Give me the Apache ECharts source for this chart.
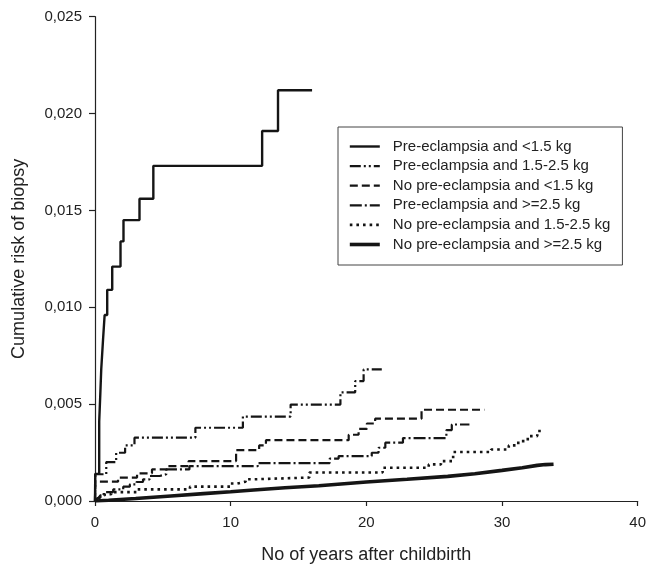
<!DOCTYPE html>
<html>
<head>
<meta charset="utf-8">
<script src="https://cdn.jsdelivr.net/npm/echarts@6/dist/echarts.min.js"></script>
<style>html,body{margin:0;padding:0;background:#fff}#c{width:649px;height:569px}</style>
</head>
<body>
<div id="c"></div>
<script>
// Series names
var seriesNames = [
  'Pre-eclampsia and <1.5 kg',
  'Pre-eclampsia and 1.5-2.5 kg',
  'No pre-eclampsia and <1.5 kg',
  'Pre-eclampsia and >=2.5 kg',
  'No pre-eclampsia and 1.5-2.5 kg',
  'No pre-eclampsia and >=2.5 kg'
];
// Years (step start times) and cumulative risk values
var t1 = [0, 0.02, 0.31, 0.39, 0.46, 0.59, 0.71, 0.90, 1.27, 1.88, 2.10, 3.28, 4.30, 12.32, 13.49, 16.0];
var v1 = [0, 0.0014, 0.0041, 0.0055, 0.0068, 0.0083, 0.0096, 0.0109, 0.0121, 0.0134, 0.0145, 0.0156, 0.0173, 0.0191, 0.0212, 0.0212];

var t2 = [0, 0.02, 0.83, 1.56, 2.22, 2.91, 7.40, 10.90, 14.42, 18.09, 19.18, 19.80, 21.14];
var v2 = [0, 0.00138, 0.00201, 0.00249, 0.00287, 0.00327, 0.00378, 0.00436, 0.00498, 0.00561, 0.00619, 0.00679, 0.00679];

var t3 = [0, 0.02, 1.7, 3.1, 4.2, 5.3, 6.9, 10.4, 12.1, 12.6, 18.7, 19.43, 20.04, 20.65, 24.07, 28.7];
var v3 = [0, 0.0010, 0.00121, 0.00143, 0.00163, 0.0018, 0.00206, 0.00263, 0.00287, 0.00314, 0.00342, 0.00372, 0.0040, 0.00425, 0.00471, 0.00471];

var t4 = [0, 0.15, 0.37, 0.73, 1.34, 2.08, 2.57, 3.05, 3.54, 4.03, 4.77, 5.26, 6.96, 12.0, 17.3, 17.96, 20.4, 20.9, 21.4, 22.7, 25.9, 26.3, 27.6];
var v4 = [0, 0.00015, 0.00029, 0.00046, 0.0006, 0.00074, 0.00086, 0.00098, 0.00112, 0.00129, 0.00138, 0.00163, 0.0018, 0.00196, 0.00219, 0.00232, 0.00249, 0.00275, 0.00301, 0.00325, 0.00366, 0.00395, 0.00395];

var t5 = [0, 0.1, 0.3, 0.6, 1.2, 3.1, 7.0, 10.0, 10.5, 11.1, 11.7, 15.8, 21.2, 24.6, 25.5, 26.4, 29.2, 30.5, 31.2, 31.9, 32.6, 33.1];
var v5 = [0, 0.0001, 0.00022, 0.00035, 0.00046, 0.0006, 0.00074, 0.0009, 0.0010, 0.00112, 0.00121, 0.00147, 0.00172, 0.00189, 0.00206, 0.00253, 0.00266, 0.00287, 0.00309, 0.00335, 0.00361, 0.00361];

var t6 = [0, 1, 3, 5.6, 8, 10, 11.7, 14, 16.5, 20, 23, 26, 28, 30, 31.5, 32.6, 33.2, 33.8];
var v6 = [0, 0.00004, 0.00013, 0.00026, 0.00038, 0.00048, 0.00057, 0.00068, 0.00079, 0.00098, 0.00112, 0.00127, 0.00141, 0.00158, 0.00172, 0.00184, 0.00188, 0.0019];

// Axis ticks
var xTicks = [0, 10, 20, 30, 40];
var yTicks = [0, 0.005, 0.010, 0.015, 0.020, 0.025];

function pairs(t, v) { return t.map(function (x, i) { return [x, v[i]]; }); }

var ink = '#151515';
var styles = [
  { width: 2.4, type: 'solid', step: 'end' },
  { width: 2.2, type: [11, 3, 2, 3, 2, 3], step: 'end' },
  { width: 2.2, type: [8, 4], step: 'end' },
  { width: 2.2, type: [12, 3, 2, 3], step: 'end' },
  { width: 2.6, type: [2.6, 4], step: 'end' },
  { width: 3.6, type: 'solid', step: false }
];
var allT = [t1, t2, t3, t4, t5, t6];
var allV = [v1, v2, v3, v4, v5, v6];

var series = seriesNames.map(function (n, i) {
  return {
    name: n,
    type: 'line',
    step: styles[i].step,
    showSymbol: false,
    symbol: 'none',
    animation: false,
    data: pairs(allT[i], allV[i]),
    lineStyle: { color: ink, width: styles[i].width, type: styles[i].type, cap: 'butt' },
    itemStyle: { color: ink }
  };
});

var legendData = seriesNames.map(function (n, i) {
  return { name: n, lineStyle: { width: styles[i].width, type: styles[i].type, color: ink } };
});

var chart = echarts.init(document.getElementById('c'), null, { renderer: 'canvas' });
chart.setOption({
  animation: false,
  backgroundColor: '#fff',
  textStyle: { fontFamily: 'Liberation Sans, Arial, sans-serif' },
  grid: { left: 95, right: 8.3, top: 16.7, bottom: 67.3, containLabel: false },
  legend: {
    orient: 'vertical',
    left: 338,
    top: 127,
    data: legendData,
    itemWidth: 30,
    itemHeight: 14,
    itemGap: 4.6,
    padding: [12, 12, 13, 10],
    borderColor: '#444',
    borderWidth: 1,
    itemStyle: { opacity: 0 },
    textStyle: { fontSize: 15, color: '#222', padding: [0, 0, 0, 8], lineHeight: 14 },
    selectedMode: false
  },
  xAxis: {
    type: 'value',
    min: xTicks[0],
    max: xTicks[xTicks.length - 1],
    interval: 10,
    name: 'No of years after childbirth',
    nameLocation: 'middle',
    nameGap: 45,
    nameTextStyle: { fontSize: 18, color: '#222' },
    axisLine: { show: true, lineStyle: { color: '#222', width: 1.2 } },
    axisTick: { show: true, length: 5, lineStyle: { color: '#222', width: 1.2 } },
    axisLabel: { fontSize: 15, color: '#222', margin: 14 },
    splitLine: { show: false }
  },
  yAxis: {
    type: 'value',
    min: yTicks[0],
    max: yTicks[yTicks.length - 1],
    interval: 0.005,
    name: 'Cumulative risk of biopsy',
    nameLocation: 'middle',
    nameGap: 67,
    nameTextStyle: { fontSize: 18, color: '#222' },
    axisLine: { show: true, lineStyle: { color: '#222', width: 1.2 } },
    axisTick: { show: true, length: 6, lineStyle: { color: '#222', width: 1.2 } },
    axisLabel: {
      fontSize: 15, color: '#222', margin: 13,
      formatter: function (v) { return v.toFixed(3).replace('.', ','); }
    },
    splitLine: { show: false }
  },
  series: series
});
</script>
</body>
</html>
